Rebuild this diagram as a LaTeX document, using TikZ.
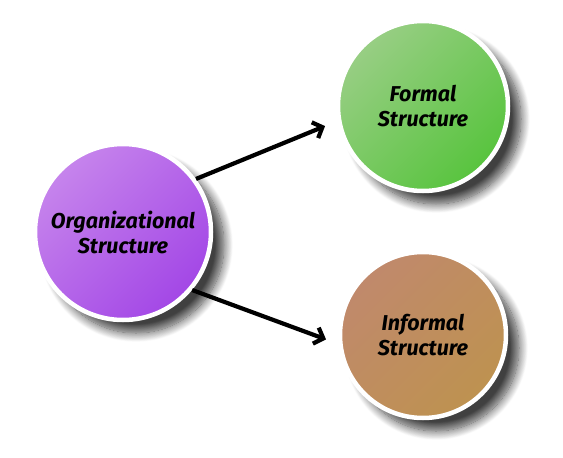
\documentclass[tikz,border=0pt]{standalone}
\usepackage{fontspec}
\setmainfont{Fira Sans}
\usetikzlibrary{arrows.meta,positioning,shadows.blur}
\tikzset{>=latex}
\definecolor{orglite}{HTML}{C684EC}
\definecolor{orgdeep}{HTML}{A347E6}
\definecolor{formallite}{HTML}{98CE84}
\definecolor{formaldeep}{HTML}{58C43E}
\definecolor{infolite}{HTML}{C0896C}
\definecolor{infodeep}{HTML}{BE9250}
\definecolor{shade}{HTML}{8A9888}
\tikzset{
  bubble/.style={circle, draw=white, line width=4.5pt, minimum size=#1, inner sep=0pt,
    align=center, font=\bfseries\itshape\fontsize{21.5}{25}\selectfont,
    blur shadow={shadow xshift=13pt, shadow yshift=-13pt, shadow blur radius=9pt,
      shadow opacity=75, shadow blur steps=14, fill=shade}},
  link/.style={-{Straight Barb[length=8pt,width=17pt,line width=4.2pt]}, line width=4.2pt},
}

\begin{document}
\begin{tikzpicture}[x=1pt,y=-1pt]
    \useasboundingbox (0,0) rectangle (563,458);
    \node[bubble=176pt, left color=orglite, right color=orgdeep, shading angle=45] (org) at (123,232) {Organizational\\Structure};
    \node[bubble=170pt, left color=formallite, right color=formaldeep, shading angle=45] (formal) at (423,106) {Formal\\Structure};
    \node[bubble=166pt, left color=infolite, right color=infodeep, shading angle=45] (informal) at (423,335) {Informal\\Structure};
    \draw [link, shorten >=13pt] (org.36) -- (formal.190);
    \draw [link, shorten >=13pt] (org.-40) -- (informal.186);
  \end{tikzpicture}
\end{document}
